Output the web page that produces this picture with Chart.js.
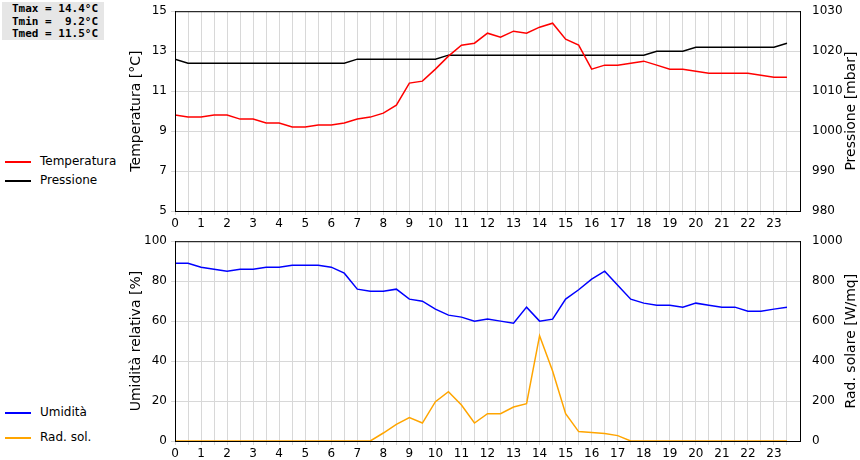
<!DOCTYPE html>
<html><head><meta charset="utf-8">
<script src="https://cdn.jsdelivr.net/npm/chart.js@4"></script>
<style>
body{margin:0;width:860px;height:460px;background:#fff;font-family:"DejaVu Sans",sans-serif;position:relative;overflow:hidden}
#info{position:absolute;left:2px;top:2px;width:102px;height:38px;background:#e6e6e6;font:bold 11px "DejaVu Sans Mono",monospace;white-space:pre;line-height:12.5px;padding-top:1px;box-sizing:border-box;padding-left:10px}
.lg{position:absolute;left:5px;font-size:12px;color:#000}
.lg span{display:inline-block;width:26px;height:2px;vertical-align:middle;margin-right:9px}
canvas{position:absolute}
</style></head><body>
<div id="info">Tmax = 14.4°C
Tmin =  9.2°C
Tmed = 11.5°C</div>
<div class="lg" style="top:154px"><span style="background:#f00"></span>Temperatura</div>
<div class="lg" style="top:173px"><span style="background:#000"></span>Pressione</div>
<div class="lg" style="top:405px"><span style="background:#00f"></span>Umidità</div>
<div class="lg" style="top:430px"><span style="background:#ffa500"></span>Rad. sol.</div>
<div style="position:absolute;left:110px;top:0;width:750px;height:230px"><canvas id="c1"></canvas></div>
<div style="position:absolute;left:110px;top:230px;width:750px;height:230px"><canvas id="c2"></canvas></div>
<script>
const hours=[];for(let i=0;i<48;i++)hours.push(i/2);
const temperatura=[9.8,9.7,9.7,9.8,9.8,9.6,9.6,9.4,9.4,9.2,9.2,9.3,9.3,9.4,9.6,9.7,9.9,10.3,11.4,11.5,12.1,12.75,13.3,13.4,13.9,13.7,14.0,13.9,14.2,14.4,13.6,13.3,12.1,12.3,12.3,12.4,12.5,12.3,12.1,12.1,12.0,11.9,11.9,11.9,11.9,11.8,11.7,11.7];
const pressione=[1018,1017,1017,1017,1017,1017,1017,1017,1017,1017,1017,1017,1017,1017,1018,1018,1018,1018,1018,1018,1018,1019,1019,1019,1019,1019,1019,1019,1019,1019,1019,1019,1019,1019,1019,1019,1019,1020,1020,1020,1021,1021,1021,1021,1021,1021,1021,1022];
const umidita=[89,89,87,86,85,86,86,87,87,88,88,88,87,84,76,75,75,76,71,70,66,63,62,60,61,60,59,67,60,61,71,75.7,81,85,78,71,69,68,68,67,69,68,67,67,65,65,66,67];
const radSol=[0,0,0,0,0,0,0,0,0,0,0,0,0,0,0,0,40,83,117,90,197,247,180,90,137,137,170,187,527,350,137,47,42,37,27,0,0,0,0,0,0,0,0,0,0,0,0,0];
const xTicks=[0,1,2,3,4,5,6,7,8,9,10,11,12,13,14,15,16,17,18,19,20,21,22,23];
const pts=a=>a.map((v,i)=>({x:hours[i],y:v}));
const F={family:"DejaVu Sans",size:12};
function frame(lt,rt){return {id:'frame',afterDraw(c){const a=c.chartArea,x=c.ctx;x.save();x.strokeStyle='#000';x.lineWidth=1;x.strokeRect(a.left+0.5,a.top+0.5,a.width,a.height);
 x.fillStyle='#000';x.font='14px "DejaVu Sans"';x.textAlign='center';x.textBaseline='middle';const cy=(a.top+a.bottom)/2;
 x.save();x.translate(26,cy);x.rotate(-Math.PI/2);x.fillText(lt,0,0);x.restore();
 x.save();x.translate(741,cy);x.rotate(-Math.PI/2);x.fillText(rt,0,0);x.restore();
 x.restore();}};}
function make(id,ds,l,r){
 return new Chart(document.getElementById(id),{type:'line',data:{datasets:ds},plugins:[frame(l.t,r.t)],
 options:{responsive:true,maintainAspectRatio:false,animation:false,layout:{padding:{top:11}},
 plugins:{legend:{display:false},tooltip:{enabled:false}},
 elements:{point:{radius:0},line:{borderWidth:1.5,tension:0}},
 scales:{
  x:{type:'linear',min:0,max:24,afterBuildTicks:s=>{s.ticks=[];for(let i=0;i<48;i++)s.ticks.push({value:i/2});},
     ticks:{color:'#000',font:F,maxRotation:0,autoSkip:false,padding:2,callback:v=>xTicks.includes(v)?String(v):''},
     grid:{color:'#d8d8d8',tickLength:4},border:{color:'#000'},afterFit:s=>{s.height=19;}},
  y:{position:'left',min:l.min,max:l.max,ticks:{stepSize:l.step,color:'#000',font:F,padding:4,callback:v=>String(v)},
     grid:{color:'#d8d8d8',tickLength:4},border:{color:'#000'},afterFit:s=>{s.width=65;}},
  y2:{position:'right',min:r.min,max:r.max,ticks:{stepSize:r.step,color:'#000',font:F,padding:4,callback:v=>String(v)},
     grid:{display:false},border:{color:'#000'},afterFit:s=>{s.width=60;}}
 }}});
}
make('c1',[{data:pts(temperatura),borderColor:'#f00',yAxisID:'y'},{data:pts(pressione),borderColor:'#000',yAxisID:'y2'}],
 {min:5,max:15,step:2,t:'Temperatura [°C]'},{min:980,max:1030,step:10,t:'Pressione [mbar]'});
make('c2',[{data:pts(umidita),borderColor:'#00f',yAxisID:'y'},{data:pts(radSol),borderColor:'#ffa500',yAxisID:'y2'}],
 {min:0,max:100,step:20,t:'Umidità relativa [%]'},{min:0,max:1000,step:200,t:'Rad. solare [W/mq]'});
</script></body></html>
